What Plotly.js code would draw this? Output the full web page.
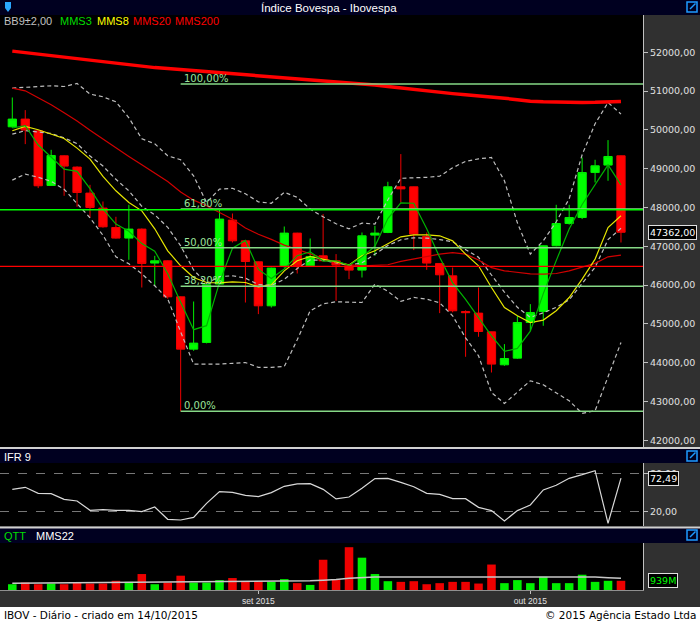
<!DOCTYPE html>
<html><head><meta charset="utf-8">
<script src="https://cdn.plot.ly/plotly-3.0.1.min.js"></script>
<style>html,body{margin:0;padding:0;background:#303030;}#chart{width:700px;height:623px;}</style>
</head><body><div id="chart"></div>
<script>
// ---- data ----
const days = ['2015-08-05','2015-08-06','2015-08-07','2015-08-10','2015-08-11','2015-08-12','2015-08-13','2015-08-14',
 '2015-08-17','2015-08-18','2015-08-19','2015-08-20','2015-08-21','2015-08-24','2015-08-25','2015-08-26','2015-08-27',
 '2015-08-28','2015-08-31','2015-09-01','2015-09-02','2015-09-03','2015-09-04','2015-09-08','2015-09-09','2015-09-10',
 '2015-09-11','2015-09-14','2015-09-15','2015-09-16','2015-09-17','2015-09-18','2015-09-21','2015-09-22','2015-09-23',
 '2015-09-24','2015-09-25','2015-09-28','2015-09-29','2015-09-30','2015-10-01','2015-10-02','2015-10-05','2015-10-06',
 '2015-10-07','2015-10-08','2015-10-09','2015-10-13'];
const open  = [50080,50279,49977,48568,49333,49042,48372,47985,47485,47212,47444,46568,46627,45699,44351,44522,46027,47676,47142,46601,45467,46480,47341,46498,46756,46627,46498,46387,47289,47356,48534,48534,47253,46558,46240,45320,45279,44797,43947,44119,45037,45320,47014,47588,47743,48902,49093,49333];
const high  = [50835,50510,49990,49487,49345,49060,48585,48155,47761,48070,47460,46756,46640,45710,45578,46020,47959,47846,47150,46610,46450,47511,47350,47202,47830,46800,46505,47356,47529,48663,49377,48540,47356,46570,46454,45350,45939,44800,44480,45210,45511,47020,48070,48070,49289,49230,49737,49340];
const low   = [50054,49634,48500,48560,48302,48019,47743,47480,47200,46653,45939,45983,45648,42749,44308,44500,46000,47100,45552,45253,45423,46450,46300,46490,46620,45596,46155,46197,46756,47340,48129,46903,46395,45279,45300,44153,44669,43749,43921,44100,44823,44952,47000,47560,47702,48645,48689,47099];
const close = [50279,49995,48560,49341,49067,48387,48001,47503,47212,47444,46558,46627,45699,44351,44506,46009,47702,47142,46609,45467,46439,47341,46498,46738,46627,46516,46387,47271,47341,48534,48480,47315,46568,46266,45339,45290,44805,43965,44109,45037,45295,47014,47588,47743,48902,49075,49315,47362];
const mms3  = [50050,50110,49611,49299,48989,48932,48485,47964,47572,47386,47071,46876,46295,45559,44852,44955,46072,46951,47151,46406,46172,46416,46759,46859,46621,46627,46510,46725,47000,47715,48118,48110,47454,46716,46058,45632,45148,44690,44293,44370,44814,45782,46632,47448,48078,48573,49097,48584];
const mms8  = [49977,50088,50003,49892,49779,49531,49248,48800,48431,48129,47915,47452,46885,46499,46197,46068,46060,46086,46068,45957,46009,46369,46627,46738,46671,46601,46516,46756,46885,47057,47245,47297,47297,47271,47142,46800,46498,45939,45423,45210,45037,45099,45339,45681,46155,46671,47485,47787];
const mms20 = [51077,51008,50830,50650,50440,50230,49990,49760,49535,49317,49100,48885,48670,48400,48190,48044,47880,47700,47470,47310,47180,47030,46920,46800,46690,46585,46530,46498,46510,46525,46610,46670,46740,46800,46840,46800,46650,46450,46369,46320,46290,46284,46300,46369,46460,46560,46730,46774];
const mms200= [52030,51990,51950,51910,51870,51830,51790,51750,51710,51670,51630,51605,51580,51555,51530,51503,51477,51450,51425,51400,51373,51347,51320,51295,51270,51243,51217,51190,51158,51120,51080,51040,51000,50965,50935,50905,50880,50850,50815,50780,50740,50725,50715,50710,50707,50710,50720,50733];
const bbUp  = [51077,51098,51116,51137,51119,51196,50923,50853,50724,50312,49771,49642,49333,49230,48817,48129,48475,48495,48354,48147,48109,48392,48263,47959,47761,47580,47452,47598,47573,48199,48753,48758,48779,48805,49024,49191,49255,49289,48689,47606,46800,47142,47632,48225,49359,50157,50706,50407];
const bbMid = [49892,49980,49948,49907,49795,49646,49329,49069,48727,48431,48032,47813,47491,47014,46391,46047,46220,46241,46180,46015,45995,46148,46427,46649,46640,46575,46508,46576,46800,47020,47168,47220,47210,47175,47117,46917,46717,46261,45820,45429,45168,45287,45429,45622,46028,46460,47172,47465];
const bbLow = [48707,48861,48779,48676,48470,48096,47735,47284,46730,46550,46292,45983,45648,44797,43965,43965,43965,43986,44006,43882,43882,43903,44591,45338,45519,45570,45563,45553,46026,45841,45583,45682,45640,45545,45210,44643,44179,43233,42950,43251,43535,43432,43225,43019,42697,42762,43638,44522];
const ifr9  = [54.7,57.9,48.4,47.9,38.9,36.3,21.6,22.6,21.6,21.6,19.5,26.8,7.4,6.3,10.5,32.6,51.1,50.0,45.3,43.2,49.5,59.5,63.2,63.7,54.7,39.5,42.6,56.3,71.6,72.1,65.8,58.9,48.4,46.8,40.0,40.0,26.3,21.1,4.7,21.1,30.0,53.7,61.1,72.1,77.9,84.2,1.1,72.49];
const volume= [590,760,590,660,590,760,660,660,940,830,1630,590,760,1460,760,760,1010,1220,900,900,830,1110,700,520,3090,1110,4370,3300,1630,900,830,900,590,700,830,830,660,2600,700,1010,700,1350,700,700,1560,830,940,939];
const mms22 = [690,700,700,705,710,715,720,730,740,750,760,770,780,790,800,810,820,830,840,860,880,900,920,940,1000,1060,1200,1290,1330,1340,1350,1350,1350,1350,1350,1350,1340,1340,1340,1330,1330,1330,1330,1330,1330,1320,1250,1200];
const fibLevels = [51180,47960,46965,45970,42749];
const fibLabels = ['100,00%','61,80%','50,00%','38,20%','0,00%'];
const greenLine = 47945, redLine = 46483;
const priceTicks = [42000,43000,44000,45000,46000,47000,48000,49000,50000,51000,52000];
const priceTickText = ['42000,00','43000,00','44000,00','45000,00','46000,00','47000,00','48000,00','49000,00','50000,00','51000,00','52000,00'];
const ifrTicks = [20,80], ifrTickText = ['20,00','80,00'];
const monthTicks = ['2015-09-01','2015-10-01'], monthText = ['set 2015','out 2015'];
const lastPrice = '47362,00', lastIfr = '72,49', lastVol = '939M';

// ---- layout helpers ----
const W = 700, H = 623;
const px = x => x / W, py = y => 1 - y / H;
const SANS = "'Liberation Sans', Arial, sans-serif";
const DJ = "'DejaVu Sans', Verdana, sans-serif";
const NAVY = '#000020';
const XR = [-0.95, 48.7];

const traces = [];
const bbStyle = {color:'#bdbdbd', width:1.2, dash:'4px,3px'};
traces.push({type:'scatter', mode:'lines', x:days, y:bbUp, line:bbStyle, xaxis:'x', yaxis:'y', hoverinfo:'skip'});
traces.push({type:'scatter', mode:'lines', x:days, y:bbLow, line:bbStyle, xaxis:'x', yaxis:'y', hoverinfo:'skip'});
traces.push({type:'scatter', mode:'lines', x:days, y:bbMid, line:bbStyle, xaxis:'x', yaxis:'y', hoverinfo:'skip'});
traces.push({type:'candlestick', x:days, open:open, high:high, low:low, close:close, xaxis:'x', yaxis:'y',
  whiskerwidth:0,
  increasing:{line:{color:'#00ee00', width:1}, fillcolor:'#00ff00'},
  decreasing:{line:{color:'#ee0000', width:1}, fillcolor:'#ff0000'}});
traces.push({type:'scatter', mode:'lines', x:days, y:mms200, line:{color:'#ff0000', width:3.5}, xaxis:'x', yaxis:'y'});
traces.push({type:'scatter', mode:'lines', x:days, y:mms20, line:{color:'#d00000', width:1.2}, xaxis:'x', yaxis:'y'});
traces.push({type:'scatter', mode:'lines', x:days, y:mms8, line:{color:'#e6e600', width:1.2}, xaxis:'x', yaxis:'y'});
traces.push({type:'scatter', mode:'lines', x:days, y:mms3, line:{color:'#00b400', width:1.2}, xaxis:'x', yaxis:'y'});
traces.push({type:'scatter', mode:'lines', x:days, y:ifr9, line:{color:'#d8d8d8', width:1.2}, xaxis:'x2', yaxis:'y2'});
traces.push({type:'bar', x:days, y:volume, width:0.66,
  marker:{color: close.map((c,i)=> c >= open[i] ? '#00ee00' : '#ee0000'), line:{width:0}}, xaxis:'x3', yaxis:'y3'});
traces.push({type:'scatter', mode:'lines', x:days, y:mms22, line:{color:'#c8c8c8', width:1.5}, xaxis:'x3', yaxis:'y3'});

const shapes = [];
const rect = (x0,y0,x1,y1,fill) => shapes.push({type:'rect', xref:'paper', yref:'paper', x0:px(x0), x1:px(x1), y0:py(y1), y1:py(y0), fillcolor:fill, line:{width:0}, layer:'below'});
rect(0,0,W,15,NAVY);
rect(0,449,W,463,NAVY);
rect(0,528,W,543,NAVY);
rect(0,607,W,H,'#ffffff');
const hline = (y,color,w) => shapes.push({type:'line', xref:'paper', yref:'paper', x0:0, x1:1, y0:py(y), y1:py(y), line:{color:color, width:w}});
hline(448,'#d0d0d0',2);
hline(527.5,'#d0d0d0',2);
// fib lines
fibLevels.forEach(v => shapes.push({type:'line', xref:'x', yref:'y', x0:13, x1:XR[1], y0:v, y1:v, line:{color:'#86d886', width:1.5}}));
shapes.push({type:'line', xref:'x', yref:'y', x0:XR[0], x1:XR[1], y0:greenLine, y1:greenLine, line:{color:'#00ff00', width:1.5}});
shapes.push({type:'line', xref:'x', yref:'y', x0:XR[0], x1:XR[1], y0:redLine, y1:redLine, line:{color:'#ff0000', width:1.2}});
// icons
const pathOf = pts => 'M' + pts.map(p => px(p[0]) + ',' + py(p[1])).join(' L') + ' Z';
shapes.push({type:'path', xref:'paper', yref:'paper', path: pathOf([[5,2],[11,2],[11,8],[8,12],[5,8]]), fillcolor:'#2aa8ff', line:{width:0}});
[2, 451, 530].forEach(t => {
  shapes.push({type:'rect', xref:'paper', yref:'paper', x0:px(687), x1:px(697), y0:py(t+10), y1:py(t), line:{color:'#1e9bff', width:1.5}, fillcolor:'rgba(0,0,0,0)'});
  shapes.push({type:'line', xref:'paper', yref:'paper', x0:px(690), x1:px(695.5), y0:py(t+7), y1:py(t+1.5), line:{color:'#1e9bff', width:1.5}});
});

const annotations = [];
const txt = (text, x, y, size, color, family, xanchor, extra) => annotations.push(Object.assign({text:text, xref:'paper', yref:'paper', x:px(x), y:py(y), xanchor:xanchor||'left', yanchor:'middle', showarrow:false, font:{size:size, color:color, family:family||SANS}}, extra||{}));
txt('Índice Bovespa - Ibovespa', 329, 8, 11.5, '#ffffff', SANS, 'center');
txt('BB9±2,00', 2, 21, 11, '#c0c0c0');
txt('MMS3', 58, 21, 11, '#00dd00');
txt('MMS8', 95, 21, 11, '#ffff00');
txt('MMS20', 131, 21, 11, '#ff0000');
txt('MMS200', 173, 21, 11, '#ff0000');
txt('IFR 9', 2, 457, 11, '#ffffff');
txt('QTT', 2, 536, 11, '#00dd00');
txt('MMS22', 34, 536, 11, '#ffffff');
txt('IBOV - Diário - criado em 14/10/2015', 2, 615, 10.5, '#000000', DJ);
txt('© 2015 Agência Estado Ltda', 698, 615, 10.5, '#000000', DJ, 'right');
fibLevels.forEach((v,i) => annotations.push({text:fibLabels[i], xref:'x', yref:'y', x:13, y:v, xanchor:'left', yanchor:'bottom', xshift:1, yshift:-2, showarrow:false, font:{size:10, color:'#9be39b', family:DJ}}));
const box = (text, yref, y, color) => annotations.push({text:text, xref:'paper', yref:yref, x:px(648), y:y, xanchor:'left', yanchor:'middle', showarrow:false, bgcolor:'#000000', bordercolor:'#e0e0e0', borderwidth:1, borderpad:1, font:{size:9.5, color:color, family:DJ}});
box(lastPrice, 'y', close[close.length-1], '#ffffff');
box(lastIfr, 'y2', ifr9[ifr9.length-1], '#ffffff');
box(lastVol, 'y3', volume[volume.length-1], '#00ff00');

const baseX = {type:'category', range:XR, showgrid:false, zeroline:false, fixedrange:true};
const baseY = {side:'right', showgrid:false, zeroline:false, showline:true, linecolor:'#c0c0c0', linewidth:1, fixedrange:true,
  ticks:'outside', ticklen:4, tickcolor:'#c0c0c0', tickfont:{family:DJ, size:9.5, color:'#e0e0e0'}};

const layout = {
  width:W, height:H, margin:{l:0, r:0, t:0, b:0, pad:0},
  paper_bgcolor:'#303030', plot_bgcolor:'#000000', showlegend:false,
  boxgap:0.2, boxgroupgap:0.2, bargap:0.3, hovermode:false,
  xaxis: Object.assign({}, baseX, {domain:[0, px(643)], anchor:'y', showticklabels:false, ticks:'', rangeslider:{visible:false}}),
  xaxis2: Object.assign({}, baseX, {domain:[0, px(643)], anchor:'y2', showticklabels:false, ticks:''}),
  xaxis3: Object.assign({}, baseX, {domain:[0, px(643)], anchor:'y3', tickvals:monthTicks, ticktext:monthText,
     ticks:'outside', ticklen:3, tickcolor:'#c0c0c0', tickfont:{family:SANS, size:8.5, color:'#e0e0e0'}, showline:true, linecolor:'#909090'}),
  yaxis: Object.assign({}, baseY, {domain:[py(447), py(15)], anchor:'x', range:[41829, 52961], tickvals:priceTicks, ticktext:priceTickText}),
  yaxis2: Object.assign({}, baseY, {domain:[py(526), py(463)], anchor:'x2', range:[-3.2, 96.3], tickvals:ifrTicks, ticktext:ifrTickText,
     showgrid:true, gridcolor:'#777777', griddash:'dash', gridwidth:1}),
  yaxis3: Object.assign({}, baseY, {domain:[py(590), py(543)], anchor:'x3', range:[0, 4800], showticklabels:false, ticks:''}),
  shapes: shapes, annotations: annotations
};
Plotly.newPlot('chart', traces, layout, {displayModeBar:false, staticPlot:true});
</script></body></html>
